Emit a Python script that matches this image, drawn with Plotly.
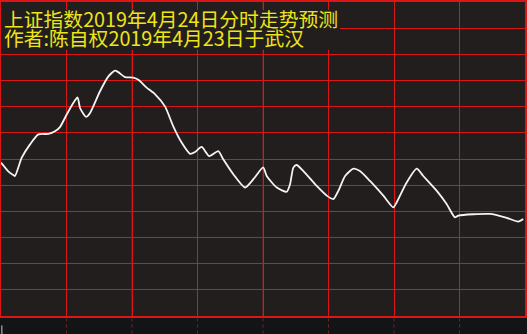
import plotly.graph_objects as go

# time in minutes from 9:30 (0..240), estimated index values
minutes = [0.0, 3.2, 5.6, 6.4, 9.5, 13.3, 17.1, 21.7, 24.7, 27.0, 30.1, 33.1, 35.1, 36.2, 38.9,
           40.8, 45.3, 49.1, 52.2, 53.7, 56.8, 60.6, 62.9, 66.7, 70.5, 75.1, 78.9, 82.8, 86.6,
           88.9, 91.9, 95.4, 99.5, 101.8, 106.4, 111.8, 115.6, 120.1, 121.7, 126.3, 130.9,
           132.4, 133.9, 135.4, 138.5, 144.6, 149.2, 152.2, 154.5, 157.6, 161.4, 164.4, 169.0,
           175.1, 179.7, 181.2, 185.8, 190.4, 193.4, 199.6, 204.1, 207.9, 209.5, 224.0, 231.6,
           236.9, 239.2]
values = [3198.6, 3195.4, 3193.9, 3193.5, 3200.5, 3205.6, 3209.4, 3209.6, 3210.6, 3212.2,
          3217.0, 3221.4, 3223.5, 3219.5, 3216.1, 3217.6, 3225.8, 3231.5, 3233.8, 3233.2,
          3231.3, 3231.1, 3230.3, 3227.3, 3224.8, 3220.1, 3212.5, 3206.2, 3202.0, 3202.7,
          3204.6, 3201.1, 3203.0, 3199.9, 3194.2, 3189.1, 3192.3, 3196.8, 3193.5, 3189.1,
          3187.5, 3190.4, 3196.7, 3197.7, 3195.4, 3189.7, 3186.0, 3184.7, 3187.8, 3193.5,
          3196.3, 3195.4, 3191.6, 3186.0, 3181.5, 3183.4, 3191.0, 3196.3, 3193.5, 3187.8,
          3182.8, 3177.7, 3178.4, 3179.0, 3177.5, 3176.1, 3177.1]

title1 = "上证指数2019年4月24日分时走势预测"
title2 = "作者:陈自权2019年4月23日于武汉"

x_ticks = [0, 30, 60, 90, 120, 150, 180, 210, 240]
dark_x = [60, 120, 210]
y_ticks = [3140 + 10 * i for i in range(13)]

RED = "#dc1616"
DARKRED = "#8e1c1c"
BG = "#221e1e"
YELLOW = "#eee418"

fig = go.Figure()
fig.add_trace(go.Scatter(x=minutes, y=values, mode="lines",
                         line=dict(color="#f4f4f4", width=1.8, shape="spline", smoothing=0.6),
                         hoverinfo="skip", showlegend=False))

shapes = []
for t in dark_x:
    shapes.append(dict(type="line", xref="x", yref="paper", x0=t, x1=t, y0=0, y1=1,
                       line=dict(color=DARKRED, width=1), layer="between"))
# background box behind the titles
shapes.append(dict(type="rect", xref="paper", yref="paper", x0=0.001, x1=0.647, y0=0.848, y1=0.9745,
                   fillcolor=BG, line=dict(width=0), layer="above"))
for t in x_ticks[1:-1]:
    shapes.append(dict(type="line", xref="x", yref="paper", x0=t, x1=t, y0=-0.008, y1=-0.06,
                       line=dict(color="#6e2424", width=1, dash="dot"), layer="above"))
shapes.append(dict(type="line", xref="x", yref="paper", x0=0.4, x1=0.4, y0=-0.03, y1=-0.06,
                   line=dict(color="#cfcfcf", width=1)))
fig.update_layout(shapes=shapes)

fig.update_layout(
    width=527, height=334,
    margin=dict(l=1, r=2, t=0, b=18),
    paper_bgcolor="#121416", plot_bgcolor=BG,
    xaxis=dict(range=[0, 240], tickvals=x_ticks, showticklabels=False, showgrid=True,
               gridcolor=RED, gridwidth=1, zeroline=False, showline=True, mirror=True,
               linecolor=RED, linewidth=1.5, fixedrange=True),
    yaxis=dict(range=[3140, 3260], tickvals=y_ticks, showticklabels=False, showgrid=True,
               gridcolor=RED, gridwidth=1, zeroline=False, showline=True, mirror=True,
               linecolor=RED, linewidth=1.5, fixedrange=True),
    annotations=[
        dict(text=title1, xref="paper", yref="paper", x=0.001, y=0.9475, xanchor="left", yanchor="middle",
             showarrow=False, font=dict(family="Noto Sans CJK SC", size=19.8, color=YELLOW)),
        dict(text=title2, xref="paper", yref="paper", x=0.001, y=0.8875, xanchor="left", yanchor="middle",
             showarrow=False, font=dict(family="Noto Sans CJK SC", size=19.8, color=YELLOW)),
    ],
)

fig.write_html("out.html")
